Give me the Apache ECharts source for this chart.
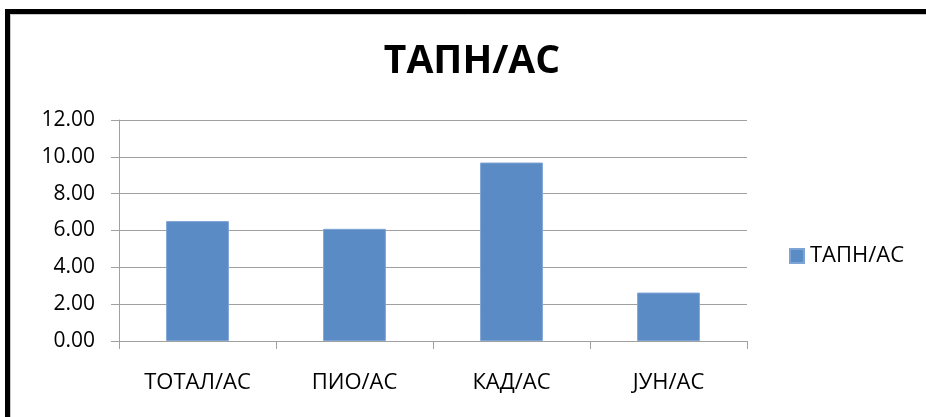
<!DOCTYPE html>
<html>
<head>
<meta charset="utf-8">
<script src="https://cdn.jsdelivr.net/npm/echarts@6/dist/echarts.min.js"></script>
<style>
  html, body { margin: 0; padding: 0; background: #fff; }
  #chart { width: 926px; height: 417px; }
</style>
</head>
<body>
<div id="chart"></div>
<script>
// Ratio of each indicator to the ТАПН/АС base
const categories = ['ТОТАЛ/АС', 'ПИО/АС', 'КАД/АС', 'ЈУН/АС'];
const seriesName = 'ТАПН/АС';
const values = [6.51, 6.09, 9.69, 2.63];
const yTicks = [0, 2, 4, 6, 8, 10, 12];

const FONT = '"Open Sans", "Noto Sans", sans-serif';
const GRID_GRAY = '#a0a0a0';

const chart = echarts.init(document.getElementById('chart'), null, { renderer: 'canvas' });

chart.setOption({
  backgroundColor: '#ffffff',
  animation: false,
  title: {
    text: seriesName,
    left: 467,
    textAlign: 'center',
    top: 37,
    textStyle: { fontFamily: FONT, fontSize: 39, fontWeight: 'bold', color: '#000' }
  },
  legend: {
    data: [seriesName],
    left: 789,
    top: 245,
    padding: 0,
    icon: 'rect',
    itemWidth: 14,
    itemHeight: 14,
    itemGap: 6,
    textStyle: { fontFamily: FONT, fontSize: 22, color: '#000', padding: [0, 0, 0, 1] }
  },
  grid: { left: 119, right: 179, top: 120, bottom: 76, containLabel: false },
  xAxis: {
    type: 'category',
    data: categories,
    axisLine: { lineStyle: { color: GRID_GRAY, width: 1 } },
    axisTick: { show: true, length: 8, lineStyle: { color: GRID_GRAY } },
    axisLabel: { margin: 31, fontFamily: FONT, fontSize: 22, color: '#000' }
  },
  yAxis: {
    type: 'value',
    min: yTicks[0],
    max: yTicks[yTicks.length - 1],
    interval: yTicks[1] - yTicks[0],
    axisLine: { show: true, lineStyle: { color: GRID_GRAY, width: 1 } },
    axisTick: { show: true, length: 8, lineStyle: { color: GRID_GRAY } },
    splitLine: { show: true, lineStyle: { color: GRID_GRAY, width: 1 } },
    axisLabel: {
      margin: 24,
      fontFamily: FONT,
      fontSize: 21,
      color: '#000',
      formatter: v => v.toFixed(2)
    }
  },
  series: [{
    name: seriesName,
    type: 'bar',
    data: values,
    barCategoryGap: '60%',
    itemStyle: { color: '#5b8bc5', borderColor: '#7ea4d6', borderWidth: 1 }
  }],
  graphic: [
    // heavy frame around the chart area, running off the right and bottom edges
    {
      type: 'rect',
      shape: { x: 7.5, y: 11.5, width: 1000, height: 500 },
      style: { fill: 'none', stroke: '#000', lineWidth: 5 },
      silent: true
    },
    {
      type: 'rect',
      shape: { x: 10.5, y: 14.5, width: 1000, height: 500 },
      style: { fill: 'none', stroke: '#c8c8c8', lineWidth: 1 },
      silent: true
    }
  ]
});
</script>
</body>
</html>
